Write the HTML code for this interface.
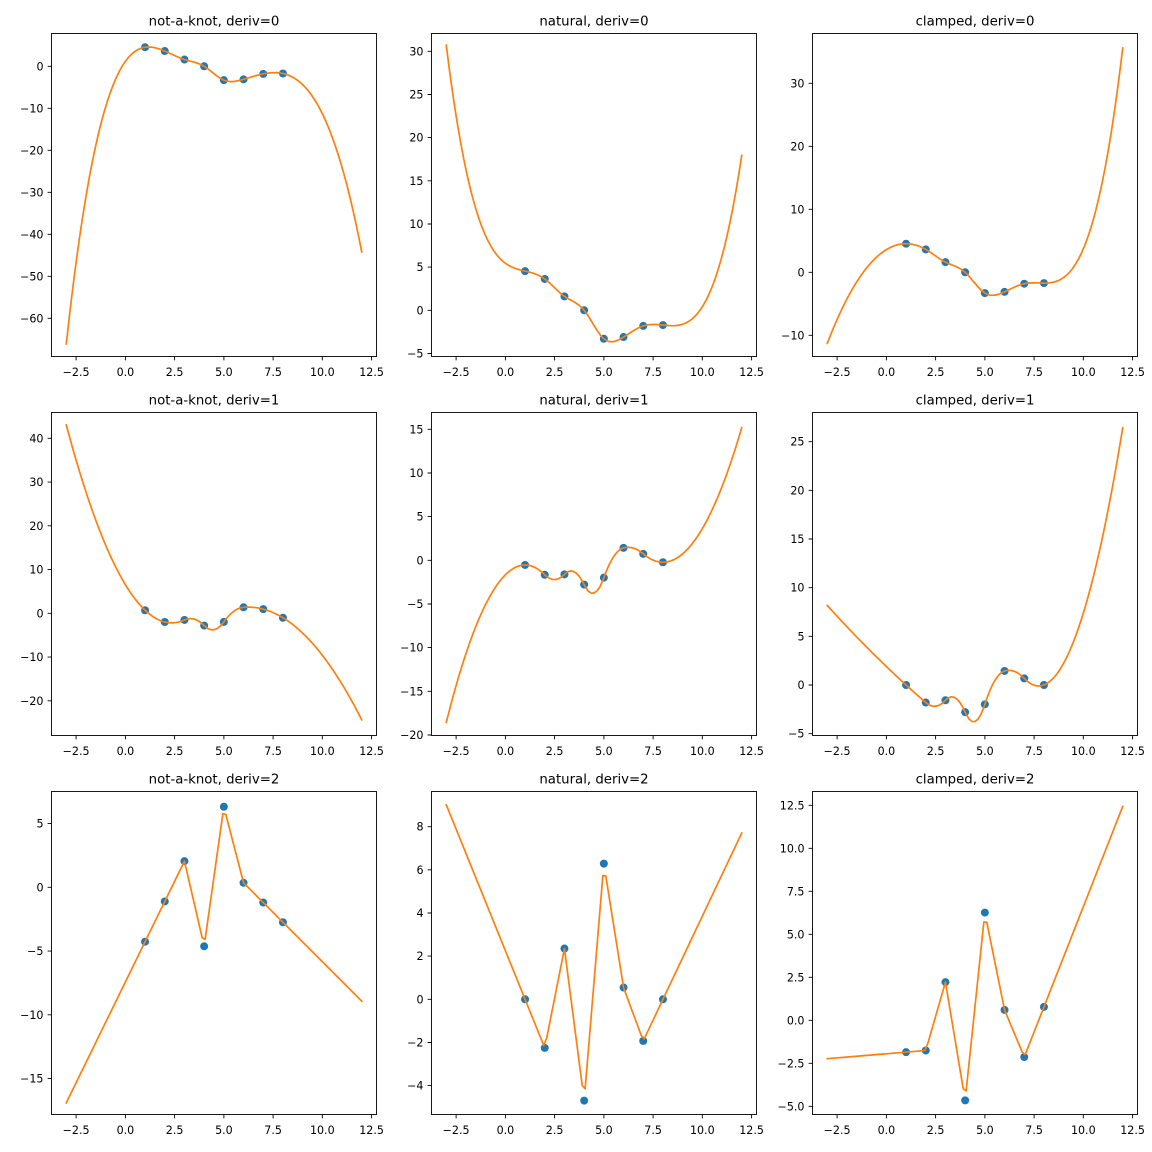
<!DOCTYPE html>
<html><head><meta charset="utf-8">
<style>
html,body{margin:0;padding:0;background:#fff;}
svg{display:block;}
text{font-family:"DejaVu Sans","Liberation Sans",sans-serif;fill:#000;}
.t{font-size:11.1px;}
.ti{font-size:13.3px;text-anchor:middle;}
.xl text{text-anchor:middle;}
.yl text{text-anchor:end;}
.tk{stroke:#000;stroke-width:0.9;fill:none;}
.fr{stroke:#000;stroke-width:0.9;fill:none;}
</style></head><body>
<svg id="fig" width="1152" height="1152" viewBox="0 0 1152 1152" xmlns="http://www.w3.org/2000/svg">
<rect width="1152" height="1152" fill="#fff"/>
<defs>
<clipPath id="c0"><rect x="51.5" y="33.5" width="325" height="323"/></clipPath>
<clipPath id="c1"><rect x="431.5" y="33.5" width="325" height="323"/></clipPath>
<clipPath id="c2"><rect x="812.5" y="33.5" width="325" height="323"/></clipPath>
<clipPath id="c3"><rect x="51.5" y="412.5" width="325" height="323"/></clipPath>
<clipPath id="c4"><rect x="431.5" y="412.5" width="325" height="323"/></clipPath>
<clipPath id="c5"><rect x="812.5" y="412.5" width="325" height="323"/></clipPath>
<clipPath id="c6"><rect x="51.5" y="791.5" width="325" height="323"/></clipPath>
<clipPath id="c7"><rect x="431.5" y="791.5" width="325" height="323"/></clipPath>
<clipPath id="c8"><rect x="812.5" y="791.5" width="325" height="323"/></clipPath>
</defs>

<g id="g0" clip-path="url(#c0)"></g>
<g id="g1" clip-path="url(#c1)"></g>
<g id="g2" clip-path="url(#c2)"></g>
<g id="g3" clip-path="url(#c3)"></g>
<g id="g4" clip-path="url(#c4)"></g>
<g id="g5" clip-path="url(#c5)"></g>
<g id="g6" clip-path="url(#c6)"></g>
<g id="g7" clip-path="url(#c7)"></g>
<g id="g8" clip-path="url(#c8)"></g>

<!-- frames -->
<rect class="fr" x="51.5" y="33.5" width="325" height="323"/>
<rect class="fr" x="431.5" y="33.5" width="325" height="323"/>
<rect class="fr" x="812.5" y="33.5" width="325" height="323"/>
<rect class="fr" x="51.5" y="412.5" width="325" height="323"/>
<rect class="fr" x="431.5" y="412.5" width="325" height="323"/>
<rect class="fr" x="812.5" y="412.5" width="325" height="323"/>
<rect class="fr" x="51.5" y="791.5" width="325" height="323"/>
<rect class="fr" x="431.5" y="791.5" width="325" height="323"/>
<rect class="fr" x="812.5" y="791.5" width="325" height="323"/>

<!-- x ticks -->
<path class="tk" d="M76.1 356.5v3.9M125.4 356.5v3.9M174.6 356.5v3.9M223.9 356.5v3.9M273.1 356.5v3.9M322.3 356.5v3.9M371.6 356.5v3.9
M456.1 356.5v3.9M505.4 356.5v3.9M554.6 356.5v3.9M603.9 356.5v3.9M653.1 356.5v3.9M702.3 356.5v3.9M751.6 356.5v3.9
M837.1 356.5v3.9M886.4 356.5v3.9M935.6 356.5v3.9M984.9 356.5v3.9M1034.1 356.5v3.9M1083.3 356.5v3.9M1132.6 356.5v3.9
M76.1 735.5v3.9M125.4 735.5v3.9M174.6 735.5v3.9M223.9 735.5v3.9M273.1 735.5v3.9M322.3 735.5v3.9M371.6 735.5v3.9
M456.1 735.5v3.9M505.4 735.5v3.9M554.6 735.5v3.9M603.9 735.5v3.9M653.1 735.5v3.9M702.3 735.5v3.9M751.6 735.5v3.9
M837.1 735.5v3.9M886.4 735.5v3.9M935.6 735.5v3.9M984.9 735.5v3.9M1034.1 735.5v3.9M1083.3 735.5v3.9M1132.6 735.5v3.9
M76.1 1114.5v3.9M125.4 1114.5v3.9M174.6 1114.5v3.9M223.9 1114.5v3.9M273.1 1114.5v3.9M322.3 1114.5v3.9M371.6 1114.5v3.9
M456.1 1114.5v3.9M505.4 1114.5v3.9M554.6 1114.5v3.9M603.9 1114.5v3.9M653.1 1114.5v3.9M702.3 1114.5v3.9M751.6 1114.5v3.9
M837.1 1114.5v3.9M886.4 1114.5v3.9M935.6 1114.5v3.9M984.9 1114.5v3.9M1034.1 1114.5v3.9M1083.3 1114.5v3.9M1132.6 1114.5v3.9"/>

<!-- y ticks -->
<path class="tk" d="M47.6 66.3h3.9M47.6 108.3h3.9M47.6 150.3h3.9M47.6 192.3h3.9M47.6 234.3h3.9M47.6 276.3h3.9M47.6 318.3h3.9
M427.6 51.3h3.9M427.6 94.5h3.9M427.6 137.6h3.9M427.6 180.8h3.9M427.6 224h3.9M427.6 267.1h3.9M427.6 310.3h3.9M427.6 353.5h3.9
M808.6 83.3h3.9M808.6 146.3h3.9M808.6 209.3h3.9M808.6 272.3h3.9M808.6 335.3h3.9
M47.6 438.3h3.9M47.6 482.1h3.9M47.6 525.8h3.9M47.6 569.6h3.9M47.6 613.3h3.9M47.6 657.1h3.9M47.6 700.8h3.9
M427.6 429.3h3.9M427.6 473h3.9M427.6 516.6h3.9M427.6 560.3h3.9M427.6 604h3.9M427.6 647.6h3.9M427.6 691.3h3.9M427.6 735h3.9
M808.6 441.7h3.9M808.6 490.3h3.9M808.6 539h3.9M808.6 587.7h3.9M808.6 636.3h3.9M808.6 685h3.9M808.6 733.7h3.9
M47.6 823.6h3.9M47.6 887.3h3.9M47.6 951.1h3.9M47.6 1014.8h3.9M47.6 1078.6h3.9
M427.6 826.7h3.9M427.6 869.8h3.9M427.6 913h3.9M427.6 956.1h3.9M427.6 999.3h3.9M427.6 1042.5h3.9M427.6 1085.6h3.9
M808.6 805.3h3.9M808.6 848.3h3.9M808.6 891.3h3.9M808.6 934.3h3.9M808.6 977.3h3.9M808.6 1020.3h3.9M808.6 1063.3h3.9M808.6 1106.3h3.9"/>

<!-- titles -->
<text class="ti" x="214" y="25.5">not-a-knot, deriv=0</text>
<text class="ti" x="594" y="25.5">natural, deriv=0</text>
<text class="ti" x="975" y="25.5">clamped, deriv=0</text>
<text class="ti" x="214" y="404.5">not-a-knot, deriv=1</text>
<text class="ti" x="594" y="404.5">natural, deriv=1</text>
<text class="ti" x="975" y="404.5">clamped, deriv=1</text>
<text class="ti" x="214" y="783.5">not-a-knot, deriv=2</text>
<text class="ti" x="594" y="783.5">natural, deriv=2</text>
<text class="ti" x="975" y="783.5">clamped, deriv=2</text>

<!-- x tick labels -->
<g class="xl t">
<text x="76.1" y="376">−2.5</text><text x="125.4" y="376">0.0</text><text x="174.6" y="376">2.5</text><text x="223.9" y="376">5.0</text><text x="273.1" y="376">7.5</text><text x="322.3" y="376">10.0</text><text x="371.6" y="376">12.5</text>
<text x="456.1" y="376">−2.5</text><text x="505.4" y="376">0.0</text><text x="554.6" y="376">2.5</text><text x="603.9" y="376">5.0</text><text x="653.1" y="376">7.5</text><text x="702.3" y="376">10.0</text><text x="751.6" y="376">12.5</text>
<text x="837.1" y="376">−2.5</text><text x="886.4" y="376">0.0</text><text x="935.6" y="376">2.5</text><text x="984.9" y="376">5.0</text><text x="1034.1" y="376">7.5</text><text x="1083.3" y="376">10.0</text><text x="1132.6" y="376">12.5</text>
<text x="76.1" y="755">−2.5</text><text x="125.4" y="755">0.0</text><text x="174.6" y="755">2.5</text><text x="223.9" y="755">5.0</text><text x="273.1" y="755">7.5</text><text x="322.3" y="755">10.0</text><text x="371.6" y="755">12.5</text>
<text x="456.1" y="755">−2.5</text><text x="505.4" y="755">0.0</text><text x="554.6" y="755">2.5</text><text x="603.9" y="755">5.0</text><text x="653.1" y="755">7.5</text><text x="702.3" y="755">10.0</text><text x="751.6" y="755">12.5</text>
<text x="837.1" y="755">−2.5</text><text x="886.4" y="755">0.0</text><text x="935.6" y="755">2.5</text><text x="984.9" y="755">5.0</text><text x="1034.1" y="755">7.5</text><text x="1083.3" y="755">10.0</text><text x="1132.6" y="755">12.5</text>
<text x="76.1" y="1134">−2.5</text><text x="125.4" y="1134">0.0</text><text x="174.6" y="1134">2.5</text><text x="223.9" y="1134">5.0</text><text x="273.1" y="1134">7.5</text><text x="322.3" y="1134">10.0</text><text x="371.6" y="1134">12.5</text>
<text x="456.1" y="1134">−2.5</text><text x="505.4" y="1134">0.0</text><text x="554.6" y="1134">2.5</text><text x="603.9" y="1134">5.0</text><text x="653.1" y="1134">7.5</text><text x="702.3" y="1134">10.0</text><text x="751.6" y="1134">12.5</text>
<text x="837.1" y="1134">−2.5</text><text x="886.4" y="1134">0.0</text><text x="935.6" y="1134">2.5</text><text x="984.9" y="1134">5.0</text><text x="1034.1" y="1134">7.5</text><text x="1083.3" y="1134">10.0</text><text x="1132.6" y="1134">12.5</text>
</g>

<!-- y tick labels -->
<g class="yl t">
<text x="43.5" y="70.3">0</text><text x="43.5" y="112.3">−10</text><text x="43.5" y="154.3">−20</text><text x="43.5" y="196.3">−30</text><text x="43.5" y="238.3">−40</text><text x="43.5" y="280.3">−50</text><text x="43.5" y="322.3">−60</text>
<text x="423.5" y="55.3">30</text><text x="423.5" y="98.5">25</text><text x="423.5" y="141.6">20</text><text x="423.5" y="184.8">15</text><text x="423.5" y="228">10</text><text x="423.5" y="271.1">5</text><text x="423.5" y="314.3">0</text><text x="423.5" y="357.5">−5</text>
<text x="804.5" y="87.3">30</text><text x="804.5" y="150.3">20</text><text x="804.5" y="213.3">10</text><text x="804.5" y="276.3">0</text><text x="804.5" y="339.3">−10</text>
<text x="43.5" y="442.3">40</text><text x="43.5" y="486.1">30</text><text x="43.5" y="529.8">20</text><text x="43.5" y="573.6">10</text><text x="43.5" y="617.3">0</text><text x="43.5" y="661.1">−10</text><text x="43.5" y="704.8">−20</text>
<text x="423.5" y="433.3">15</text><text x="423.5" y="477">10</text><text x="423.5" y="520.6">5</text><text x="423.5" y="564.3">0</text><text x="423.5" y="608">−5</text><text x="423.5" y="651.6">−10</text><text x="423.5" y="695.3">−15</text><text x="423.5" y="739">−20</text>
<text x="804.5" y="445.7">25</text><text x="804.5" y="494.3">20</text><text x="804.5" y="543">15</text><text x="804.5" y="591.7">10</text><text x="804.5" y="640.3">5</text><text x="804.5" y="689">0</text><text x="804.5" y="737.7">−5</text>
<text x="43.5" y="827.6">5</text><text x="43.5" y="891.3">0</text><text x="43.5" y="955.1">−5</text><text x="43.5" y="1018.8">−10</text><text x="43.5" y="1082.6">−15</text>
<text x="423.5" y="830.7">8</text><text x="423.5" y="873.8">6</text><text x="423.5" y="917">4</text><text x="423.5" y="960.1">2</text><text x="423.5" y="1003.3">0</text><text x="423.5" y="1046.5">−2</text><text x="423.5" y="1089.6">−4</text>
<text x="804.5" y="809.3">12.5</text><text x="804.5" y="852.3">10.0</text><text x="804.5" y="895.3">7.5</text><text x="804.5" y="938.3">5.0</text><text x="804.5" y="981.3">2.5</text><text x="804.5" y="1024.3">0.0</text><text x="804.5" y="1067.3">−2.5</text><text x="804.5" y="1110.3">−5.0</text>
</g>
</svg>
<script>
(function(){
var X=[1,2,3,4,5,6,7,8];
var Y=[4.54,3.63,1.61,0.0,-3.30,-3.10,-1.81,-1.7135];
var n=8;
function solve(A,b){
  var N=b.length,k,i,j;
  for(k=0;k<N;k++){
    var p=k;
    for(i=k+1;i<N;i++) if(Math.abs(A[i][k])>Math.abs(A[p][k])) p=i;
    var tr=A[k];A[k]=A[p];A[p]=tr; var tb=b[k];b[k]=b[p];b[p]=tb;
    for(i=k+1;i<N;i++){
      var f=A[i][k]/A[k][k];
      for(j=k;j<N;j++) A[i][j]-=f*A[k][j];
      b[i]-=f*b[k];
    }
  }
  var x=new Array(N);
  for(i=N-1;i>=0;i--){
    var s=b[i];
    for(j=i+1;j<N;j++) s-=A[i][j]*x[j];
    x[i]=s/A[i][i];
  }
  return x;
}
function secondDerivs(bc){
  var A=[],r=[],i,j;
  for(i=0;i<n;i++){A.push([]);for(j=0;j<n;j++)A[i].push(0);r.push(0);}
  for(i=1;i<n-1;i++){A[i][i-1]=1;A[i][i]=4;A[i][i+1]=1;r[i]=6*(Y[i+1]-2*Y[i]+Y[i-1]);}
  if(bc==='natural'){A[0][0]=1;A[n-1][n-1]=1;}
  else if(bc==='clamped'){
    A[0][0]=2;A[0][1]=1;r[0]=6*(Y[1]-Y[0]);
    A[n-1][n-2]=1;A[n-1][n-1]=2;r[n-1]=-6*(Y[n-1]-Y[n-2]);
  } else {
    A[0][0]=1;A[0][1]=-2;A[0][2]=1;
    A[n-1][n-3]=1;A[n-1][n-2]=-2;A[n-1][n-1]=1;
  }
  return solve(A,r);
}
function ev(M,x,d){
  var i=Math.floor(x-1); if(i<0)i=0; if(i>n-2)i=n-2;
  var t=x-X[i];
  var a=Y[i],c=M[i]/2,dd=(M[i+1]-M[i])/6,b=(Y[i+1]-Y[i])-(2*M[i]+M[i+1])/6;
  if(d===0) return a+t*(b+t*(c+t*dd));
  if(d===1) return b+t*(2*c+3*dd*t);
  return 2*c+6*dd*t;
}
var P=[
 {L:51.5,Z:66.3,K:4.2,bc:'not-a-knot',d:0},
 {L:431.5,Z:310.3,K:8.633,bc:'natural',d:0},
 {L:812.5,Z:272.3,K:6.3,bc:'clamped',d:0},
 {L:51.5,Z:613.3,K:4.375,bc:'not-a-knot',d:1},
 {L:431.5,Z:560.3,K:8.733,bc:'natural',d:1},
 {L:812.5,Z:685,K:9.733,bc:'clamped',d:1},
 {L:51.5,Z:887.3,K:12.75,bc:'not-a-knot',d:2},
 {L:431.5,Z:999.3,K:21.58,bc:'natural',d:2},
 {L:812.5,Z:1020.3,K:17.2,bc:'clamped',d:2}
];
var NS='http://www.w3.org/2000/svg';
var S=325/16.5;
for(var p=0;p<P.length;p++){
  var c=P[p],M=secondDerivs(c.bc),g=document.getElementById('g'+p);
  var px=function(x){return c.L+(x+3.75)*S;};
  var py=function(v){return c.Z-v*c.K;};
  for(var k=0;k<n;k++){
    var ci=document.createElementNS(NS,'circle');
    ci.setAttribute('cx',px(X[k]).toFixed(2));
    ci.setAttribute('cy',py(ev(M,X[k],c.d)).toFixed(2));
    ci.setAttribute('r','4');
    ci.setAttribute('fill','#1f77b4');
    g.appendChild(ci);
  }
  var pts=[];
  for(var j=0;j<=100;j++){
    var x=-3+j*0.15;
    pts.push(px(x).toFixed(2)+','+py(ev(M,x,c.d)).toFixed(2));
  }
  var pl=document.createElementNS(NS,'polyline');
  pl.setAttribute('points',pts.join(' '));
  pl.setAttribute('fill','none');
  pl.setAttribute('stroke','#ff7f0e');
  pl.setAttribute('stroke-width','1.7');
  pl.setAttribute('stroke-linejoin','round');
  pl.setAttribute('stroke-linecap','square');
  g.appendChild(pl);
}
})();
</script>
</body></html>
